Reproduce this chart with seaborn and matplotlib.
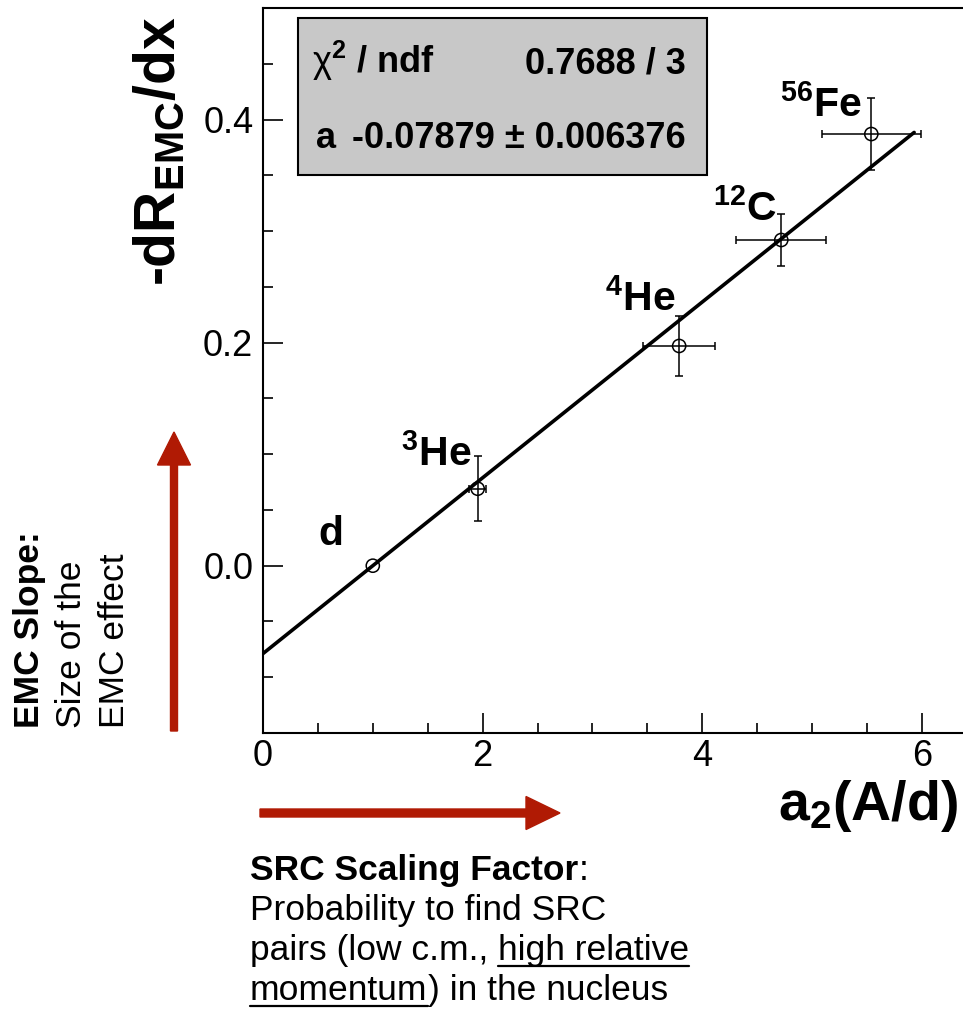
import matplotlib
matplotlib.use("Agg")
import matplotlib.pyplot as plt
import matplotlib.patches as mpatches
import matplotlib.transforms as mtrans
from matplotlib.lines import Line2D
from matplotlib.ticker import MultipleLocator
import seaborn as sns

# ---- data -------------------------------------------------------------
nuclei = ["d", "$^{\\mathbf{3}}$He", "$^{\\mathbf{4}}$He", "$^{\\mathbf{12}}$C", "$^{\\mathbf{56}}$Fe"]
a2 = [1.0, 1.955, 3.79, 4.72, 5.54]
a2_err = [0.0, 0.078, 0.33, 0.41, 0.45]
emc_slope = [0.0, 0.069, 0.197, 0.292, 0.387]
emc_slope_err = [0.0, 0.029, 0.027, 0.023, 0.032]

fit_a = -0.07879
fit_a_err = 0.006376
fit_chi2 = 0.7688
fit_ndf = 3
fit_range = [0.0, 5.93]
fit_line = [fit_a * (1.0 - x) for x in fit_range]

x_ticks = [0, 2, 4, 6]
y_ticks = [0.0, 0.2, 0.4]

# ---- style ------------------------------------------------------------
sns.set_theme(style="ticks")
plt.rcParams["font.family"] = ["Liberation Sans", "DejaVu Sans"]
plt.rcParams["mathtext.fontset"] = "custom"
plt.rcParams["mathtext.rm"] = "Liberation Sans"
plt.rcParams["mathtext.bf"] = "Liberation Sans:bold"
plt.rcParams["mathtext.it"] = "Liberation Sans:italic"
for key in ["text.color", "axes.labelcolor", "xtick.color", "ytick.color",
            "axes.edgecolor"]:
    plt.rcParams[key] = "black"

W, H = 963, 1011
fig = plt.figure(figsize=(W / 100, H / 100), dpi=100)
fig.patch.set_facecolor("white")


def fx(x):
    return x / W


def fy(y):
    return 1 - y / H


ax = fig.add_axes([fx(263), fy(733), fx(700), 725 / H])
ax.set_facecolor("white")

# fit line
sns.lineplot(x=fit_range, y=fit_line, ax=ax, color="black", linewidth=2.6, zorder=3)

# error bars (only points that carry uncertainties)
for xv, xe, yv, ye in zip(a2, a2_err, emc_slope, emc_slope_err):
    if xe > 0 or ye > 0:
        ax.errorbar(xv, yv, xerr=xe, yerr=ye, fmt="none", ecolor="black",
                    elinewidth=1.1, capsize=3.2, capthick=1.1, zorder=2)

sns.scatterplot(x=a2, y=emc_slope, ax=ax, marker="o", s=90,
                facecolors="none", edgecolor="black", linewidth=1.1, zorder=4)

ax.set_xlim(0, 6.375)
ax.set_ylim(-0.15, 0.5)
ax.set_xticks(x_ticks)
ax.set_xticklabels([str(t) for t in x_ticks])
ax.set_yticks(y_ticks)
ax.set_yticklabels([f"{t:.1f}" for t in y_ticks])
ax.xaxis.set_minor_locator(MultipleLocator(0.5))
ax.yaxis.set_minor_locator(MultipleLocator(0.05))
ax.tick_params(which="both", direction="in", top=False, right=False,
               color="black", width=1.2)
ax.tick_params(which="major", length=14.5, labelsize=26, labelcolor="black")
ax.tick_params(which="minor", length=7.5)
ax.tick_params(axis="x", which="major", pad=4)
ax.tick_params(axis="y", which="major", pad=7)
for side in ["left", "bottom", "top"]:
    ax.spines[side].set_color("black")
    ax.spines[side].set_linewidth(1.5)
ax.spines["right"].set_visible(False)

# nucleus labels
label_pos = [(318, 545), (401, 466), (605, 311), (713, 221), (780, 117)]
for name, (lx, ly) in zip(nuclei, label_pos):
    fig.text(fx(lx), fy(ly), name, fontsize=29.5, fontweight="bold",
             ha="left", va="baseline")

# axis titles
fig.text(fx(160), fy(151), "-dR$_{\\mathbf{EMC}}$/dx", rotation=90,
         fontsize=41, fontweight="bold", ha="center", va="center")
fig.text(fx(868), fy(806), "a$_{\\mathbf{2}}$(A/d)", fontsize=40,
         fontweight="bold", ha="center", va="center")

# fit statistics box
fig.add_artist(mpatches.Rectangle((fx(298), fy(175)), fx(409), 157 / H,
                                  transform=fig.transFigure, facecolor="#c8c8c8",
                                  edgecolor="black", linewidth=1.5, zorder=5))
fig.text(fx(312), fy(73), "$\\mathrm{\\chi}^{\\mathbf{2}}$ / ndf", fontsize=26,
         fontweight="bold", ha="left", va="baseline", zorder=6)
fig.text(fx(686), fy(73), f"{fit_chi2} / {fit_ndf}", fontsize=26,
         fontweight="bold", ha="right", va="baseline", zorder=6)
fig.text(fx(316), fy(148), "a", fontsize=26, fontweight="bold",
         ha="left", va="baseline", zorder=6)
fig.text(fx(686), fy(148), f"{fit_a} \u00b1 {fit_a_err}", fontsize=26,
         fontweight="bold", ha="right", va="baseline", zorder=6)

# red arrows
arrow_red = "#b01a04"
pix = mtrans.IdentityTransform()
fig.add_artist(mpatches.FancyArrow(174, H - 731, 0, 299, width=7,
                                   head_width=33, head_length=33,
                                   length_includes_head=True, color=arrow_red,
                                   transform=pix))
fig.add_artist(mpatches.FancyArrow(260, H - 813, 300, 0, width=8,
                                   head_width=33, head_length=34,
                                   length_includes_head=True, color=arrow_red,
                                   transform=pix))

# rotated explanation on the left
fig.text(fx(30), fy(728), "EMC Slope:", rotation=90, fontsize=25.5,
         fontweight="bold", ha="center", va="bottom")
fig.text(fx(71), fy(728), "Size of the", rotation=90, fontsize=25.5,
         ha="center", va="bottom")
fig.text(fx(115), fy(728), "EMC effect", rotation=90, fontsize=25.5,
         ha="center", va="bottom")

# explanation below the x axis, built from pieces so parts can be bold/underlined
renderer = fig.canvas.get_renderer()
FS = 25.5


def run(x, y, pieces):
    for text, bold, underline in pieces:
        t = fig.text(fx(x), fy(y), text, fontsize=FS,
                     fontweight="bold" if bold else "normal",
                     ha="left", va="baseline")
        bb = t.get_window_extent(renderer)
        if underline:
            fig.add_artist(Line2D([bb.x0, bb.x1], [H - y - 6, H - y - 6],
                                  transform=pix, color="black", linewidth=1.6))
        x += bb.width


run(250, 880, [("SRC Scaling Factor", True, False), (":", False, False)])
run(250, 920, [("Probability to find SRC", False, False)])
run(250, 960, [("pairs (low c.m., ", False, False), ("high relative", False, True)])
run(250, 1000, [("momentum", False, True), (") in the nucleus", False, False)])

fig.savefig("out.png", dpi=100, facecolor="white")
